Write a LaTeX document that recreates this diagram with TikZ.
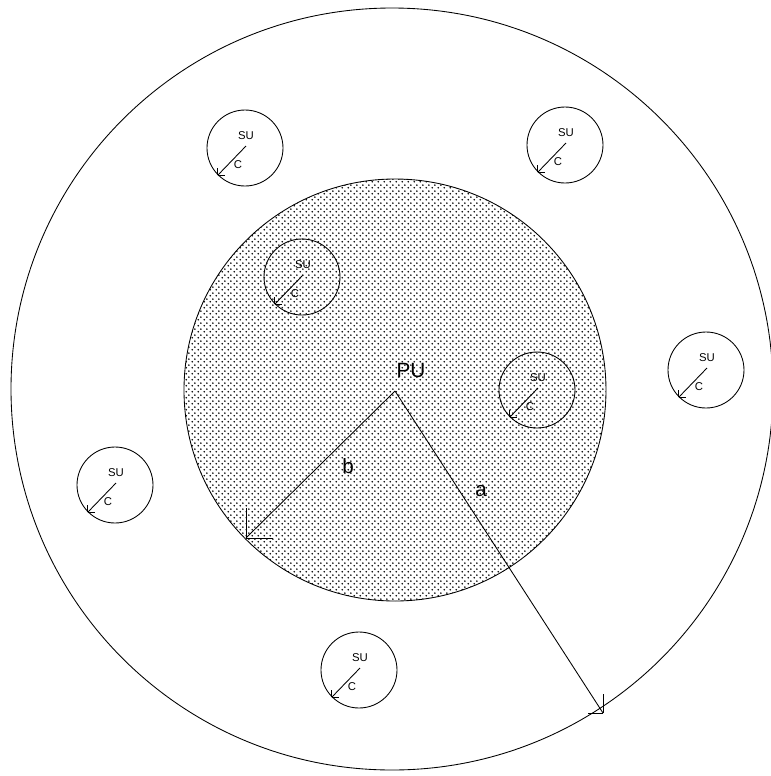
\documentclass[tikz,border=0pt]{standalone}
\usepackage{fontspec}
\setmainfont{Liberation Sans}
\usetikzlibrary{patterns}
\pgfdeclarepatternformonly{sdots}{\pgfqpoint{0pt}{0pt}}{\pgfqpoint{4.2pt}{4.2pt}}{\pgfqpoint{4.2pt}{4.2pt}}{%
  \pgfpathcircle{\pgfqpoint{1.05pt}{1.05pt}}{0.7pt}%
  \pgfpathcircle{\pgfqpoint{3.15pt}{3.15pt}}{0.7pt}%
  \pgfusepath{fill}}
\begin{document}
\begin{tikzpicture}[x=0.75pt,y=-0.75pt,line width=0.65pt,
  ring/.style={circle,draw,inner sep=0pt},
  sucirc/.style={ring,minimum size=57pt},
  sutxt/.style={inner sep=0pt,font=\fontsize{8.5}{10}\selectfont},
  bigtxt/.style={inner sep=0pt,font=\fontsize{15.5}{17}\selectfont}]
\useasboundingbox (0,0) rectangle (771,776);
% outer and primary circles
\node (outer) [ring,minimum size=571.5pt] at (392,389) {};
\node (pu) [ring,minimum size=316.5pt,pattern=sdots] at (395,390) {};
\coordinate (o) at (395,391);
\node[bigtxt] (putxt) at (411,370) {PU};
% radius b
\coordinate (bend) at (246,538);
\draw (o) -- (bend);
\draw (bend) -- ++(0,-30);
\draw (bend) -- ++(27,0);
\node[bigtxt] (btxt) at (348,466) {b};
% radius a
\coordinate (aend) at (603,713);
\draw (o) -- (aend);
\draw (aend) -- ++(0,-19);
\draw (aend) -- ++(-15,0);
\node[bigtxt] (atxt) at (481,491) {a};
% secondary users
\foreach \n/\x/\y in {1/245/148, 2/565/145, 3/302/277, 4/537/390, 5/706/370, 6/115/485, 7/359/670}{
  \node[sucirc] (s\n) at (\x,\y) {};
  \node[sutxt] (su\n) at ([shift={(1,-12)}]s\n.center) {SU};
  \node[sutxt] (c\n) at ([shift={(-7,17)}]s\n.center) {C};
  \coordinate (st\n) at ([shift={(1,-2)}]s\n.center);
  \coordinate (e\n) at (s\n.225);
  \draw (st\n) -- (e\n);
  \draw (e\n) -- ++(0,-7);
  \draw (e\n) -- ++(7,0);
}
\end{tikzpicture}
\end{document}
